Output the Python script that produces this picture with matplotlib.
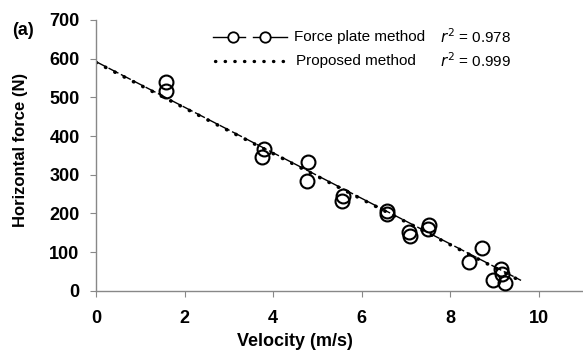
import numpy as np
import matplotlib
import matplotlib.pyplot as plt

matplotlib.rcParams.update({'font.family': 'Liberation Sans'})

# ── Data ──────────────────────────────────────────────────────────────────────
velocity = [1.57, 1.57, 3.79, 3.74, 4.78, 4.77, 5.57, 5.55, 6.56, 6.58,
            7.06, 7.10, 7.53, 7.50, 8.72, 8.42, 9.15, 9.17, 8.97, 9.24]
force = [539, 517, 367, 347, 332, 285, 246, 232, 207, 199,
         153, 142, 169, 160, 112, 74, 56, 44, 28, 20]

fp_line_x = [0.0, 9.6]
fp_line_y = [592, 27]
prop_line_x = [0.0, 9.5]
prop_line_y = [590, 31]

r2_force_plate = 0.978
r2_proposed = 0.999

DOTS = (0, (0.1, 2.8))

# ── Plot ──────────────────────────────────────────────────────────────────────
fig = plt.figure(figsize=(5.83, 3.56), dpi=100)
ax = fig.add_axes([0.165, 0.183, 0.835, 0.761])

ax.plot(velocity, force, 'o', ms=10, mfc='none', mec='black', mew=1.5, zorder=3)
ax.plot(fp_line_x, fp_line_y, color='black', lw=1.0, ls=(0, (8, 2)), zorder=2)
ax.plot(prop_line_x, prop_line_y, color='black', lw=2.6, ls=DOTS,
        dash_capstyle='round', zorder=2)

ax.set_xlim(0, 11)
ax.set_ylim(0, 700)
ax.set_xticks([0, 2, 4, 6, 8, 10])
ax.set_yticks(range(0, 701, 100))
ax.tick_params(direction='out', length=4, width=0.8, color='#888888',
               labelsize=13)
ax.tick_params(axis='x', pad=10)
ax.tick_params(axis='y', pad=8)
for lbl in ax.get_xticklabels() + ax.get_yticklabels():
    lbl.set_fontweight('bold')
for side in ['top', 'right']:
    ax.spines[side].set_visible(False)
for side in ['left', 'bottom']:
    ax.spines[side].set_color('#888888')
    ax.spines[side].set_linewidth(1.0)

ax.set_xlabel('Velocity (m/s)', fontsize=13, fontweight='bold')
ax.xaxis.set_label_coords(0.409, -0.155)
ax.set_ylabel('Horizontal force (N)', fontsize=12, fontweight='bold')
ax.yaxis.set_label_coords(-0.14, 0.52)
fig.text(0.02, 0.915, '(a)', fontsize=13, fontweight='bold', va='center')

# legend drawn by hand to get the "-o- -o-" handle of the original
tr = ax.transAxes
def ax_x(px):
    return (px - 96) / 487
def ax_y(py):
    return (291 - py) / 271

y1, y2 = ax_y(37), ax_y(61)
ax.plot([ax_x(213), ax_x(245)], [y1, y1], color='black', lw=1.0, transform=tr, clip_on=False)
ax.plot([ax_x(253), ax_x(287)], [y1, y1], color='black', lw=1.0, transform=tr, clip_on=False)
ax.plot([ax_x(233), ax_x(265)], [y1, y1], 'o', ms=7.5, mfc='white', mec='black',
        mew=1.3, transform=tr, clip_on=False)
ax.plot([ax_x(215), ax_x(287)], [y2, y2], color='black', lw=2.4, ls=DOTS,
        dash_capstyle='round', transform=tr, clip_on=False)
ax.text(ax_x(294), y1, 'Force plate method', fontsize=11, va='center', transform=tr)
ax.text(ax_x(296), y2, 'Proposed method', fontsize=11, va='center', transform=tr)
ax.text(ax_x(440), y1, f'$r^2$ = {r2_force_plate}', fontsize=11, va='center', transform=tr)
ax.text(ax_x(440), y2, f'$r^2$ = {r2_proposed}', fontsize=11, va='center', transform=tr)

fig.savefig('out.png', dpi=100)
